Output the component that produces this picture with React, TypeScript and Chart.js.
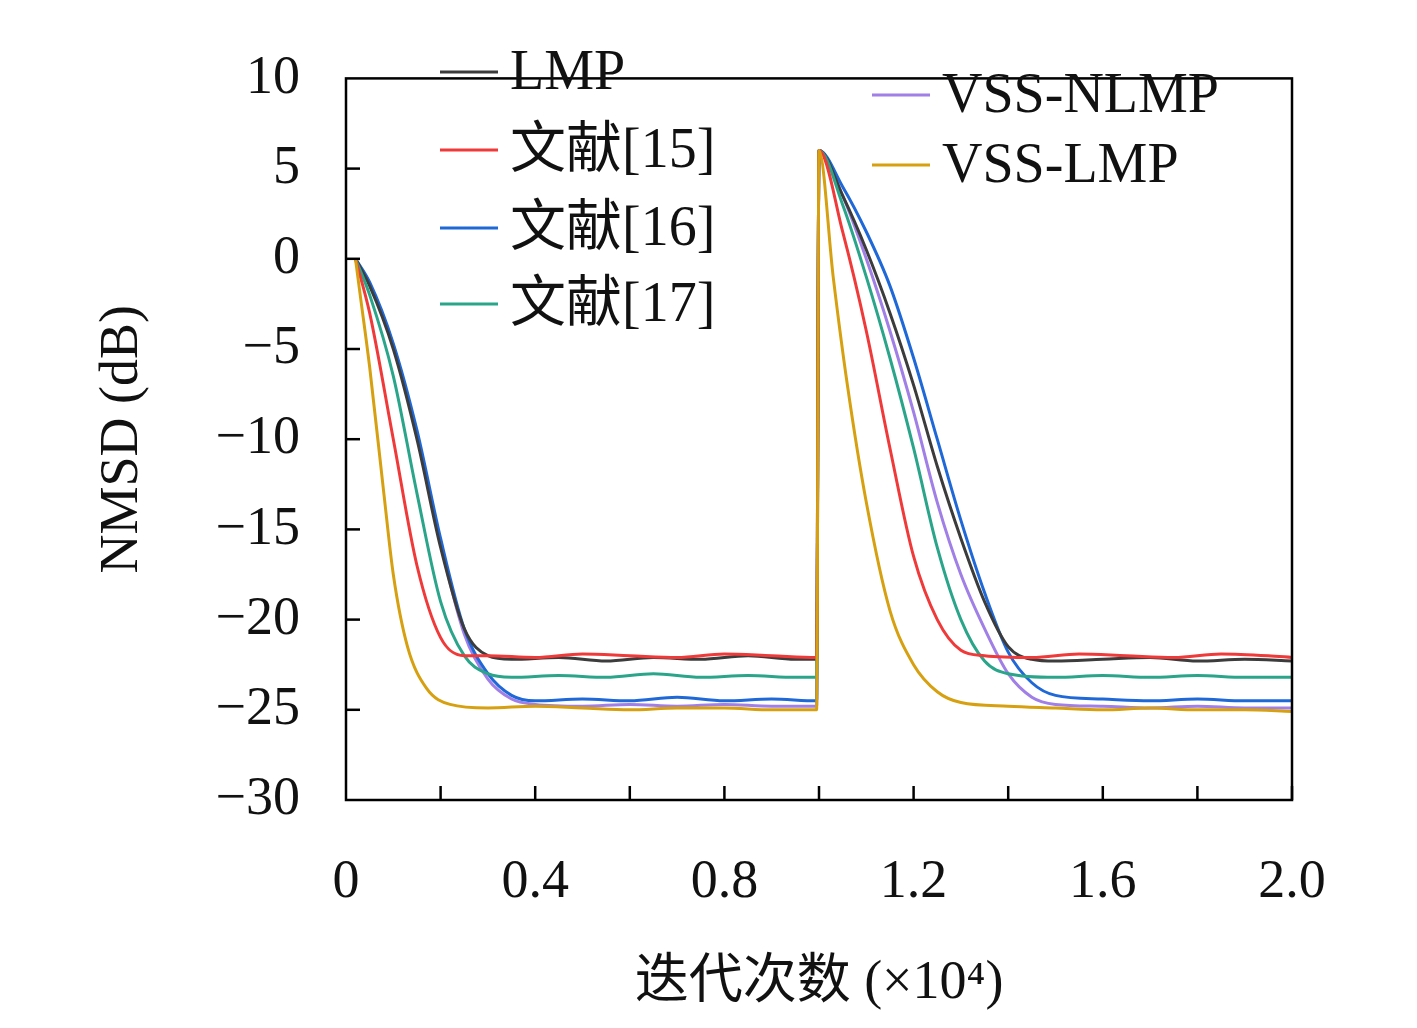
import React, { useEffect, useRef } from "react";
import { Chart, registerables } from "chart.js";
Chart.register(...registerables);

const seriesNames = ["LMP", "文献[15]", "文献[16]", "文献[17]", "VSS-NLMP", "VSS-LMP"];
const seriesColors = ["#3c3c3c", "#f03a3a", "#1f68d8", "#2aa58a", "#a07fe6", "#d6a010"];

const lmpX = [0.02,0.05,0.1,0.15,0.2,0.25,0.3,0.35,0.45,0.55,0.65,0.75,0.85,0.95,0.995,1.0,1.05,1.1,1.15,1.2,1.25,1.3,1.35,1.4,1.45,1.5,1.6,1.7,1.8,1.9,2.0];
const lmpY = [0,-1.5,-5,-10,-16,-20.5,-22,-22.2,-22.1,-22.3,-22.1,-22.2,-22.0,-22.2,-22.2,6,3.5,0.5,-3,-7,-11.5,-15.5,-19,-21.5,-22.2,-22.3,-22.2,-22.1,-22.3,-22.2,-22.3];
const ref15X = [0.02,0.05,0.1,0.15,0.2,0.25,0.3,0.4,0.5,0.6,0.7,0.8,0.9,0.995,1.0,1.05,1.1,1.15,1.2,1.25,1.3,1.35,1.45,1.55,1.65,1.75,1.85,1.95,2.0];
const ref15Y = [0,-3,-10,-17,-21,-22,-22,-22.1,-21.9,-22.0,-22.1,-21.9,-22.0,-22.1,6,1.5,-4,-10.5,-16.5,-20,-21.7,-22,-22.1,-21.9,-22.0,-22.1,-21.9,-22.0,-22.1];
const ref16X = [0.02,0.05,0.1,0.15,0.2,0.25,0.3,0.35,0.4,0.5,0.6,0.7,0.8,0.9,0.995,1.0,1.05,1.1,1.15,1.2,1.25,1.3,1.35,1.4,1.45,1.5,1.6,1.7,1.8,1.9,2.0];
const ref16Y = [0,-1.3,-4.7,-9.5,-15.5,-20.5,-23,-24.2,-24.5,-24.4,-24.5,-24.3,-24.5,-24.4,-24.5,6,4,1.5,-1.5,-5.5,-10,-14.5,-18.5,-21.8,-23.5,-24.2,-24.4,-24.5,-24.4,-24.5,-24.5];
const ref17X = [0.02,0.05,0.1,0.15,0.2,0.25,0.3,0.35,0.45,0.55,0.65,0.75,0.85,0.95,0.995,1.0,1.05,1.1,1.15,1.2,1.25,1.3,1.35,1.4,1.5,1.6,1.7,1.8,1.9,2.0];
const ref17Y = [0,-2,-6.5,-13,-19,-22,-23,-23.2,-23.1,-23.2,-23.0,-23.2,-23.1,-23.2,-23.2,6,3,-1,-5.5,-10.5,-16,-20,-22.3,-23,-23.2,-23.1,-23.2,-23.1,-23.2,-23.2];
const nlmpX = [0.02,0.05,0.1,0.15,0.2,0.25,0.3,0.35,0.4,0.5,0.6,0.7,0.8,0.9,0.995,1.0,1.05,1.1,1.15,1.2,1.25,1.3,1.35,1.4,1.45,1.5,1.6,1.7,1.8,1.9,2.0];
const nlmpY = [0,-1.4,-4.8,-9.8,-15.8,-20.8,-23.3,-24.4,-24.7,-24.8,-24.7,-24.8,-24.7,-24.8,-24.8,6,3.5,0,-4,-8.5,-13.5,-17.5,-20.5,-23,-24.3,-24.7,-24.8,-24.9,-24.8,-24.9,-24.9];
const vlmpX = [0.02,0.03,0.05,0.08,0.1,0.13,0.17,0.22,0.3,0.4,0.5,0.6,0.7,0.8,0.9,0.995,1.0,1.03,1.06,1.1,1.15,1.2,1.25,1.3,1.4,1.5,1.6,1.7,1.8,1.9,2.0];
const vlmpY = [0,-2,-6,-13,-17.5,-21.5,-23.8,-24.7,-24.9,-24.8,-24.9,-25.0,-24.9,-24.9,-25.0,-25.0,6,-1,-7,-13.5,-19.5,-22.5,-24,-24.6,-24.8,-24.9,-25.0,-24.9,-25.0,-25.0,-25.1];

const allX = [lmpX, ref15X, ref16X, ref17X, nlmpX, vlmpX];
const allY = [lmpY, ref15Y, ref16Y, ref17Y, nlmpY, vlmpY];
const drawOrder = [5, 1, 3, 0, 2, 4];

const FONT = "'Liberation Serif', 'Noto Sans CJK SC', serif";

export default function App() {
  const ref = useRef<HTMLCanvasElement>(null);
  useEffect(() => {
    document.body.style.margin = "0";
    const datasets = drawOrder.map((i) => ({
      label: seriesNames[i],
      data: allX[i].map((x, k) => ({ x, y: allY[i][k] })),
      borderColor: seriesColors[i],
      borderWidth: 3,
      pointRadius: 0,
      tension: 0.3,
      cubicInterpolationMode: "monotone" as const,
    }));
    const frame = {
      id: "frame",
      afterDraw(c: any) {
        const { ctx, chartArea: a } = c;
        ctx.save();
        ctx.strokeStyle = "#000";
        ctx.lineWidth = 2.5;
        ctx.strokeRect(a.left, a.top, a.right - a.left, a.bottom - a.top);
        for (let v = 0.2; v < 2.0; v += 0.2) {
          const px = c.scales.x.getPixelForValue(v);
          ctx.beginPath(); ctx.moveTo(px, a.bottom); ctx.lineTo(px, a.bottom - 14); ctx.stroke();
        }
        for (let v = -25; v < 10; v += 5) {
          const py = c.scales.y.getPixelForValue(v);
          ctx.beginPath(); ctx.moveTo(a.left, py); ctx.lineTo(a.left + 14, py); ctx.stroke();
        }
        ctx.font = `56px ${FONT}`;
        ctx.textBaseline = "middle";
        const pos = [[440, 72], [440, 150], [440, 228], [440, 304], [872, 95], [872, 165]];
        seriesNames.forEach((n, i) => {
          const [lx, ly] = pos[i];
          ctx.strokeStyle = seriesColors[i];
          ctx.lineWidth = 3;
          ctx.beginPath(); ctx.moveTo(lx, ly); ctx.lineTo(lx + 58, ly); ctx.stroke();
          ctx.fillStyle = "#111";
          ctx.fillText(n, lx + 70, ly + 2);
        });
        ctx.restore();
      },
    };
    const chart = new Chart(ref.current!, {
      type: "line",
      data: { datasets },
      plugins: [frame],
      options: {
        animation: false,
        responsive: false,
        layout: { padding: { top: 9, right: 125, left: 0, bottom: 0 } },
        plugins: { legend: { display: false }, tooltip: { enabled: false } },
        scales: {
          x: {
            type: "linear", min: 0, max: 2.0,
            afterFit: (s: any) => { s.height = 228; },
            grid: { display: false, drawTicks: false },
            border: { display: false },
            ticks: {
              stepSize: 0.2, padding: 50, color: "#111", font: { family: FONT, size: 54 }, maxRotation: 0,
              callback: (v: any) => {
                const n = Math.round(Number(v) * 10);
                if (n === 0) return "0";
                return n % 4 === 0 ? (n / 10).toFixed(1) : "";
              },
            },
            title: { display: true, text: "迭代次数 (×10⁴)", color: "#111", font: { family: FONT, size: 54 }, padding: { top: 0, bottom: 12 } },
          },
          y: {
            min: -30, max: 10,
            afterFit: (s: any) => { s.width = 346; },
            grid: { display: false, drawTicks: false },
            border: { display: false },
            ticks: {
              stepSize: 5, padding: 46, color: "#111", font: { family: FONT, size: 54 },
              callback: (v: any) => (Number(v) < 0 ? "−" + Math.abs(Number(v)) : String(v)),
            },
            title: { display: true, text: "NMSD (dB)", color: "#111", font: { family: FONT, size: 54 }, padding: { top: 90, bottom: 0 } },
          },
        },
      },
    });
    return () => chart.destroy();
  }, []);
  return <canvas ref={ref} width={1417} height={1028} style={{ display: "block" }} />;
}
